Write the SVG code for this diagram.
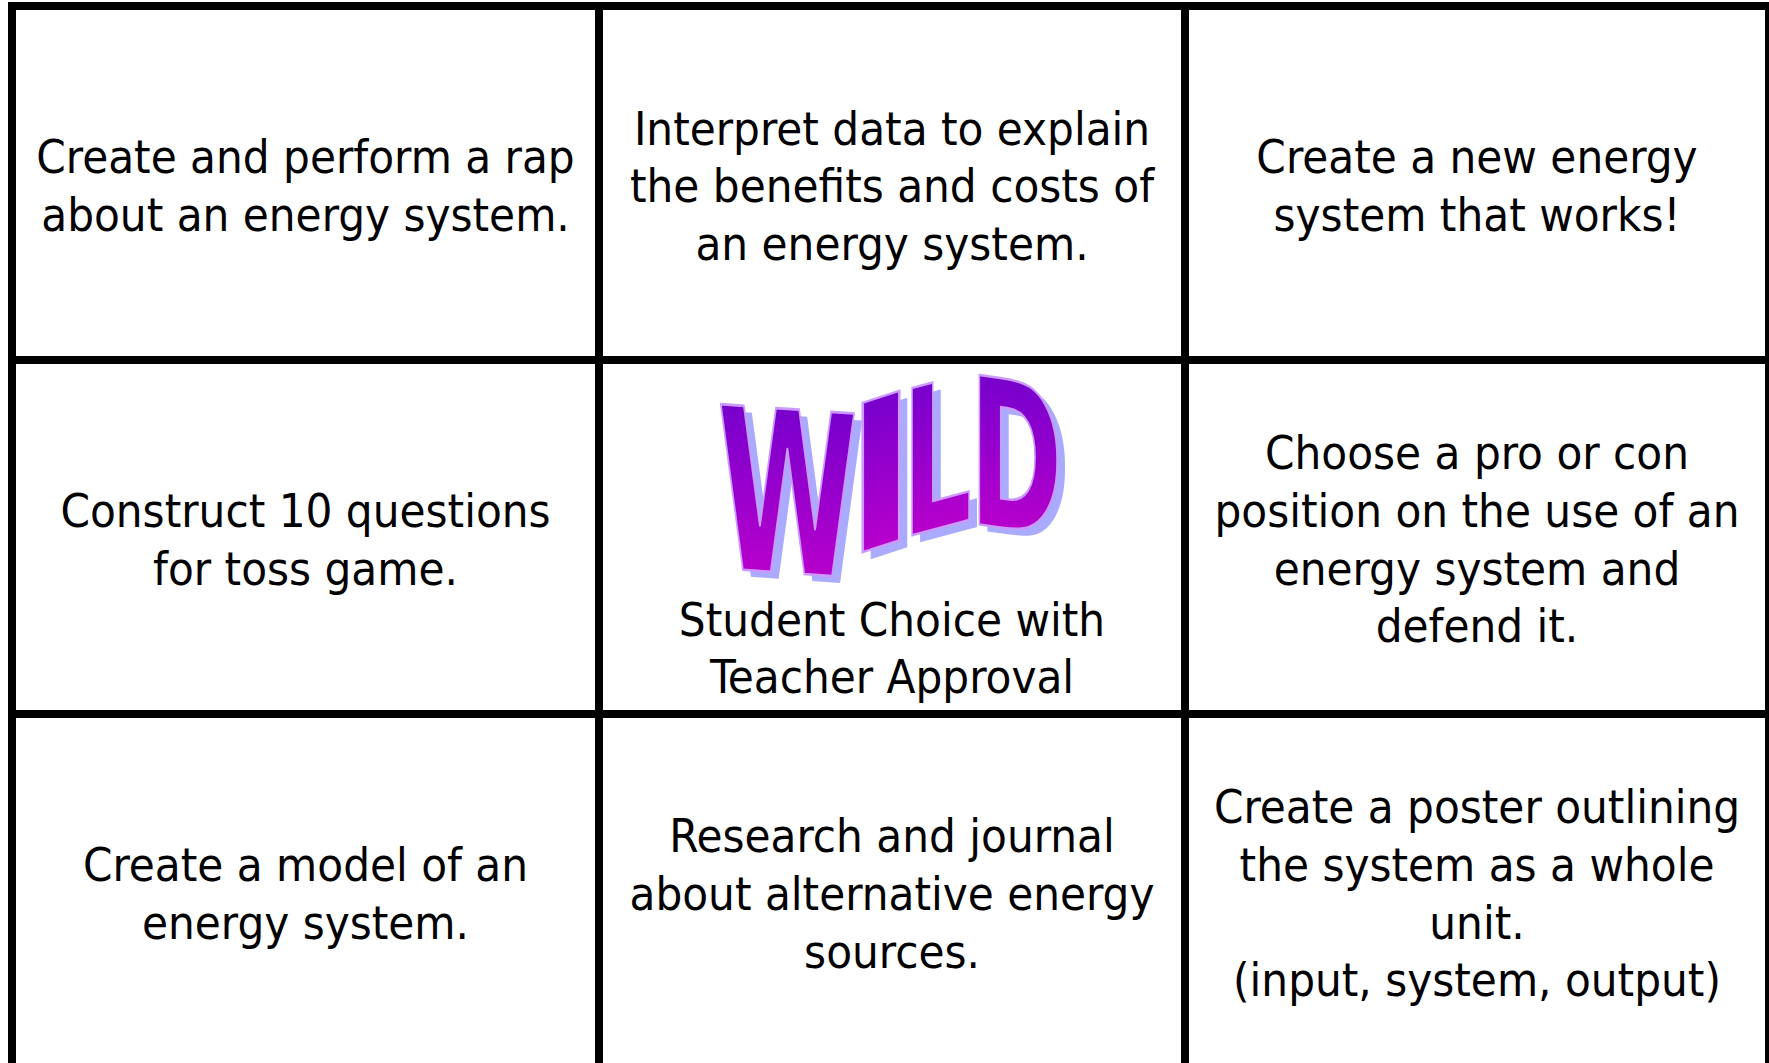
<svg xmlns="http://www.w3.org/2000/svg" width="1769" height="1063" viewBox="0 0 1769 1063">
<style>
.t{font-family:"DejaVu Sans Condensed","DejaVu Sans",Tahoma,sans-serif;font-stretch:condensed;font-size:47px;fill:#000;text-anchor:middle}
.g{stroke:#000;stroke-width:8;fill:none}
.wl{font-family:"DejaVu Sans Condensed","DejaVu Sans",sans-serif;font-stretch:condensed;font-weight:bold;font-size:100px}
.wf{fill:url(#wg);stroke:#cc99ff;stroke-width:1.2}
.ws{fill:#aaaaff}
</style>
<defs>
<linearGradient id="wg" x1="0" y1="0" x2="0" y2="1">
<stop offset="0" stop-color="#6600cc"/>
<stop offset="1" stop-color="#cc00cc"/>
</linearGradient>
</defs>
<rect width="1769" height="1063" fill="#fff"/>
<g id="grid">
<line class="g" x1="12" y1="2" x2="12" y2="1063"/>
<line class="g" x1="599" y1="2" x2="599" y2="1063"/>
<line class="g" x1="1185" y1="2" x2="1185" y2="1063"/>
<line class="g" x1="1769" y1="2" x2="1769" y2="1063"/>
<line class="g" x1="8" y1="6" x2="1769" y2="6"/>
<line class="g" x1="8" y1="360" x2="1769" y2="360"/>
<line class="g" x1="8" y1="714" x2="1769" y2="714"/>
</g>
<g id="cell-rap">
<text class="t" x="305.5" y="173">Create and perform a rap</text>
<text class="t" x="305.5" y="231">about an energy system.</text>
</g>
<g id="cell-interpret">
<text class="t" x="892" y="145">Interpret data to explain</text>
<text class="t" x="892" y="202">the benefits and costs of</text>
<text class="t" x="892" y="260">an energy system.</text>
</g>
<g id="cell-new">
<text class="t" x="1477" y="173">Create a new energy</text>
<text class="t" x="1477" y="231">system that works!</text>
</g>
<g id="cell-questions">
<text class="t" x="305.5" y="527">Construct 10 questions</text>
<text class="t" x="305.5" y="585">for toss game.</text>
</g>
<g id="cell-wild">
<g class="wl">
<text class="ws" x="0" y="0" textLength="141" lengthAdjust="spacingAndGlyphs" transform="translate(725,575) skewY(4) scale(1,2.25)">W</text>
<text class="ws" x="0" y="0" textLength="72" lengthAdjust="spacingAndGlyphs" transform="translate(853,565) skewY(-18) scale(1,2.05)">I</text>
<text class="ws" x="0" y="0" textLength="70" lengthAdjust="spacingAndGlyphs" transform="translate(910,545) skewY(-15) scale(1,2.02)">L</text>
<text class="ws" x="0" y="0" textLength="94" lengthAdjust="spacingAndGlyphs" transform="translate(977,530) skewY(8) scale(1,2.05)">D</text>
<text class="wf" x="0" y="0" textLength="141" lengthAdjust="spacingAndGlyphs" transform="translate(717,568) skewY(4) scale(1,2.25)">W</text>
<text class="wf" x="0" y="0" textLength="72" lengthAdjust="spacingAndGlyphs" transform="translate(845,558) skewY(-18) scale(1,2.05)">I</text>
<text class="wf" x="0" y="0" textLength="70" lengthAdjust="spacingAndGlyphs" transform="translate(902,538) skewY(-15) scale(1,2.02)">L</text>
<text class="wf" x="0" y="0" textLength="94" lengthAdjust="spacingAndGlyphs" transform="translate(969,523) skewY(8) scale(1,2.05)">D</text>
</g>
<text class="t" x="892" y="636">Student Choice with</text>
<text class="t" x="892" y="693">Teacher Approval</text>
</g>
<g id="cell-position">
<text class="t" x="1477" y="469">Choose a pro or con</text>
<text class="t" x="1477" y="527">position on the use of an</text>
<text class="t" x="1477" y="585">energy system and</text>
<text class="t" x="1477" y="642">defend it.</text>
</g>
<g id="cell-model">
<text class="t" x="305.5" y="881">Create a model of an</text>
<text class="t" x="305.5" y="939">energy system.</text>
</g>
<g id="cell-research">
<text class="t" x="892" y="852">Research and journal</text>
<text class="t" x="892" y="910">about alternative energy</text>
<text class="t" x="892" y="968">sources.</text>
</g>
<g id="cell-poster">
<text class="t" x="1477" y="823">Create a poster outlining</text>
<text class="t" x="1477" y="881">the system as a whole</text>
<text class="t" x="1477" y="939">unit.</text>
<text class="t" x="1477" y="996">(input, system, output)</text>
</g>
</svg>
